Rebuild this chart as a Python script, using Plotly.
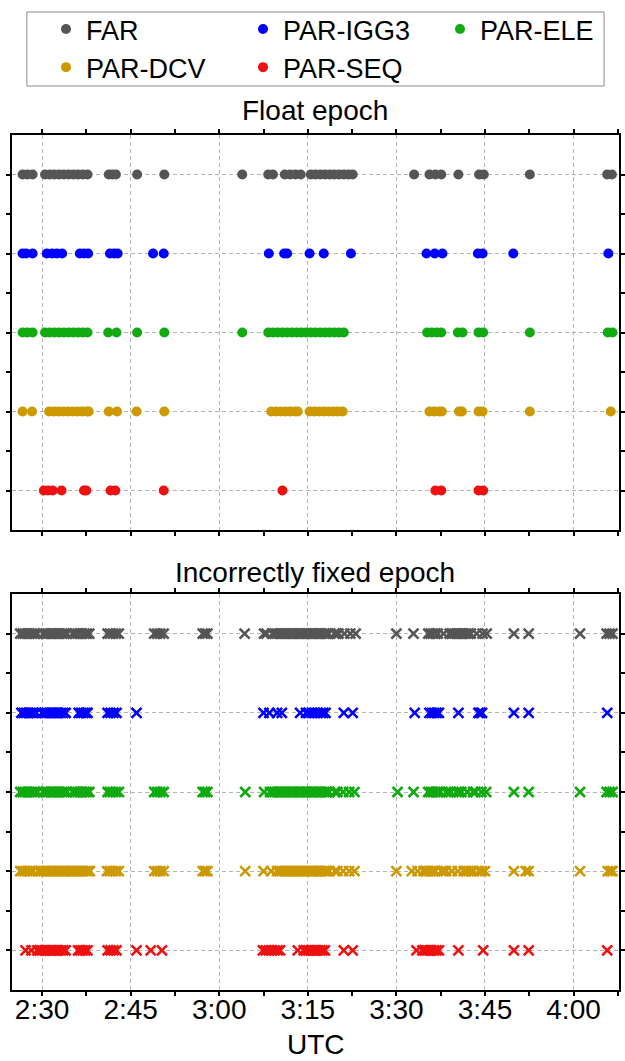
import plotly.graph_objects as go

# ---------------- data ----------------
categories = ["FAR", "PAR-IGG3", "PAR-ELE", "PAR-DCV", "PAR-SEQ"]
colors = ["#555555", "#0000FF", "#11AA11", "#CC9900", "#EE1111"]

# x-axis ticks (minutes after 02:00 UTC)
tick_vals = [30, 45, 60, 75, 90, 105, 120]
tick_text = ["2:30", "2:45", "3:00", "3:15", "3:30", "3:45", "4:00"]
minor_tick_vals = [37.5, 52.5, 67.5, 82.5, 97.5, 112.5, 127.5]
panel_titles = ["Float epoch", "Incorrectly fixed epoch"]
x_title = "UTC"

# Float epochs (minutes after 02:00 UTC)
float_far = [26.7, 27.5, 28.4, 30.5, 31.3, 32.1, 32.9, 33.7, 34.5, 35.3, 36.1, 36.9, 37.7,
             41.3, 41.9, 42.5, 46.1, 50.7, 63.9, 68.3, 69.1, 71.1, 72.0, 72.9, 73.8,
             75.5, 76.3, 77.1, 77.9, 78.7, 79.5, 80.3, 81.1, 81.9, 82.6, 93.0, 95.6, 96.6,
             97.6, 100.5, 104.0, 104.8, 112.6, 125.7, 126.5]
float_igg3 = [26.7, 27.3, 28.4, 30.8, 31.7, 32.5, 33.4, 36.4, 37.1, 37.8, 41.5, 42.2, 42.8,
              48.8, 50.6, 68.4, 71.0, 71.5, 75.3, 77.7, 82.3, 95.1, 96.5, 97.8, 103.8,
              104.6, 109.8, 125.9]
float_ele = [26.7, 27.5, 28.4, 30.5, 31.3, 32.1, 32.9, 33.7, 34.5, 35.3, 36.1, 36.9, 37.7,
             41.2, 42.6, 46.1, 50.7, 63.9, 68.3, 69.1, 69.9, 70.7, 71.5, 72.3, 73.1, 73.9,
             74.7, 75.5, 76.3, 77.1, 77.9, 78.7, 79.5, 80.3, 81.1, 95.2, 96.0, 96.8, 97.6,
             100.4, 101.2, 103.9, 104.7, 112.6, 125.8, 126.6]
float_dcv = [26.7, 28.3, 31.2, 32.0, 32.8, 33.6, 34.4, 35.2, 36.0, 36.8, 37.6, 37.9,
             41.3, 42.7, 46.0, 50.7, 68.8, 69.6, 70.4, 71.2, 72.0, 72.8, 73.3, 75.3, 76.1,
             76.9, 77.7, 78.5, 79.3, 80.1, 80.9, 95.6, 96.4, 97.2, 97.7, 100.6, 101.1,
             103.9, 104.6, 112.6, 126.3]
float_seq = [30.3, 31.0, 31.8, 33.3, 37.1, 37.5, 41.6, 42.4, 50.6, 70.7, 96.6, 97.6,
             103.9, 104.7]

# Incorrectly fixed epochs (minutes after 02:00 UTC)
inc_far = [26.3, 26.7, 27.1, 27.5, 27.9, 28.3, 28.7, 29.2, 30.2, 30.6, 31.0, 31.4, 31.8,
           32.2, 32.6, 33.0, 33.4, 33.8, 34.2, 35.2, 35.6, 36.0, 36.4, 36.8, 37.2, 37.6,
           38.0, 41.1, 41.5, 42.0, 42.5, 43.0, 49.0, 49.5, 50.0, 50.6, 57.2, 57.6, 58.0,
           64.3, 67.6, 68.0, 69.0, 69.4, 69.8, 70.2, 70.6, 71.0, 71.4, 71.8, 72.2, 72.6,
           73.0, 73.4, 73.8, 74.2, 74.6, 75.0, 75.4, 75.8, 76.2, 76.6, 77.0, 77.4, 77.8,
           78.2, 78.5, 79.5, 79.9, 80.2, 81.2, 82.2, 83.1, 90.0, 92.9, 95.4, 95.8, 96.2,
           96.6, 97.0, 98.0, 99.0, 99.4, 99.8, 100.2, 100.6, 101.0, 101.4, 101.8, 102.2,
           102.6, 103.6, 104.6, 105.3, 109.9, 112.4, 121.1, 125.6, 126.1, 126.6]
inc_igg3 = [26.5, 26.9, 27.3, 27.7, 28.1, 28.5, 29.0, 30.0, 30.4, 30.8, 31.2, 31.6, 32.0,
            32.4, 32.8, 33.2, 33.6, 34.0, 36.2, 36.6, 37.0, 37.4, 37.7, 41.1, 41.6, 42.1,
            42.6, 46.0, 67.5, 68.5, 69.8, 70.6, 73.7, 74.7, 75.2, 75.7, 76.2, 76.7, 77.2,
            77.6, 78.0, 81.1, 82.6, 93.1, 95.6, 96.0, 96.4, 96.8, 97.2, 100.5, 103.9,
            104.2, 104.5, 109.9, 112.4, 125.7]
inc_ele = [26.3, 26.7, 27.1, 27.5, 27.9, 28.3, 28.7, 29.2, 30.2, 30.6, 31.0, 31.4, 31.8,
           32.2, 32.6, 33.0, 33.4, 33.8, 34.2, 35.2, 35.6, 36.0, 36.4, 36.8, 37.2, 37.6,
           38.0, 41.1, 41.5, 42.0, 42.5, 43.0, 49.0, 49.5, 50.0, 50.6, 57.2, 57.6, 58.0,
           64.4, 67.6, 68.6, 69.0, 69.4, 69.8, 70.2, 70.6, 71.0, 71.4, 71.8, 72.2, 72.6,
           73.0, 73.4, 73.8, 74.2, 74.6, 75.0, 75.4, 75.8, 76.2, 76.6, 77.0, 77.4, 77.8,
           78.2, 78.6, 79.6, 80.0, 81.0, 82.0, 82.9, 90.2, 92.9, 95.4, 95.8, 96.2, 96.6,
           97.0, 97.4, 98.4, 98.8, 99.2, 100.2, 100.6, 101.0, 102.0, 103.0, 103.4, 104.4,
           105.2, 109.9, 112.4, 121.1, 125.6, 126.1, 126.6]
inc_dcv = [26.3, 26.7, 27.1, 27.5, 27.9, 28.4, 29.4, 29.8, 30.2, 30.6, 31.0, 31.4, 31.8,
           32.2, 32.6, 33.0, 33.4, 33.8, 34.2, 34.6, 35.0, 35.4, 35.8, 36.2, 36.6, 37.0,
           37.4, 37.8, 38.1, 41.0, 41.5, 42.0, 42.5, 43.0, 49.0, 49.5, 50.0, 50.6, 57.2,
           57.6, 58.0, 64.4, 67.5, 68.8, 69.8, 70.2, 70.6, 71.0, 71.4, 71.8, 72.2, 72.6,
           73.0, 73.4, 73.8, 74.2, 74.6, 75.0, 75.4, 75.8, 76.2, 76.6, 77.0, 77.4, 77.8,
           78.2, 78.6, 79.6, 80.0, 81.0, 82.0, 82.9, 90.0, 92.6, 93.6, 94.6, 95.0, 95.4,
           95.8, 96.2, 96.6, 97.6, 98.0, 98.4, 99.4, 100.4, 101.4, 101.8, 102.2, 102.6,
           103.0, 104.0, 104.5, 105.0, 109.9, 111.9, 112.4, 121.1, 125.8, 126.3, 126.6]
inc_seq = [27.2, 28.2, 29.2, 29.6, 30.0, 30.4, 30.8, 31.2, 31.6, 32.0, 32.4, 32.8, 33.2,
           33.6, 34.0, 36.1, 36.5, 36.9, 37.3, 37.7, 41.1, 41.6, 42.1, 42.6, 46.0, 48.4,
           50.3, 67.4, 67.9, 68.4, 68.9, 69.4, 69.9, 70.3, 73.3, 74.3, 74.7, 75.1, 75.5,
           75.9, 76.3, 76.7, 77.1, 77.5, 77.9, 81.1, 82.6, 93.4, 94.4, 94.8, 95.2, 95.6,
           96.0, 96.4, 96.8, 97.2, 100.5, 104.7, 109.9, 112.4, 125.7]

float_series = [float_far, float_igg3, float_ele, float_dcv, float_seq]
inc_series = [inc_far, inc_igg3, inc_ele, inc_dcv, inc_seq]

# ---------------- figure ----------------
W, H = 625, 1061
FONT = "Liberation Sans, Arial, sans-serif"
n = len(categories)

fig = go.Figure()
for i, (name, col) in enumerate(zip(categories, colors)):
    row = n - i
    fig.add_trace(go.Scatter(
        x=float_series[i], y=[row] * len(float_series[i]), mode="markers", name=name,
        marker=dict(symbol="circle", size=10, color=col, line=dict(width=0)),
        xaxis="x", yaxis="y", showlegend=True, legendrank=i + 1))
for i, (name, col) in enumerate(zip(categories, colors)):
    row = n - i
    fig.add_trace(go.Scatter(
        x=inc_series[i], y=[row] * len(inc_series[i]), mode="markers", name=name,
        marker=dict(symbol="x-thin", size=10, color=col, line=dict(width=2.6, color=col)),
        xaxis="x2", yaxis="y2", showlegend=False))

xdom = [12 / W, 622 / W]
top_dom = [1 - 530 / H, 1 - 135 / H]
bot_dom = [1 - 990 / H, 1 - 594 / H]
xrange = [24.9, 127.7]

common_x = dict(
    range=xrange, tickmode="array", tickvals=tick_vals, ticktext=tick_text,
    ticks="outside", ticklen=4, tickwidth=1.5, tickcolor="black",
    showline=True, linewidth=2, linecolor="black", mirror="ticks",
    showgrid=True, gridcolor="#b4b4b4", gridwidth=1, griddash="4px,3px",
    zeroline=False, domain=xdom,
    minor=dict(tickmode="array", tickvals=minor_tick_vals, ticks="outside",
               ticklen=4, tickwidth=1.5, tickcolor="black", showgrid=False),
    tickfont=dict(family=FONT, size=28, color="black"),
)
common_y = dict(
    range=[0.5, n + 0.5], tickmode="array", tickvals=list(range(1, n + 1)),
    ticktext=[""] * n, showticklabels=False,
    ticks="outside", ticklen=4, tickwidth=1.5, tickcolor="black",
    showline=True, linewidth=2, linecolor="black", mirror="ticks",
    showgrid=True, gridcolor="#b4b4b4", gridwidth=1, griddash="4px,3px",
    zeroline=False,
    minor=dict(tickmode="array", tickvals=[k + 0.5 for k in range(1, n)],
               ticks="outside", ticklen=4, tickwidth=1.5, tickcolor="black",
               showgrid=False),
)

fig.update_layout(
    width=W, height=H, margin=dict(l=0, r=0, t=0, b=0),
    paper_bgcolor="white", plot_bgcolor="white",
    font=dict(family=FONT, color="black"),
    xaxis=dict(common_x, anchor="y", showticklabels=False),
    yaxis=dict(common_y, anchor="x", domain=top_dom),
    xaxis2=dict(common_x, anchor="y2", showticklabels=True, ticklabelstandoff=-11),
    yaxis2=dict(common_y, anchor="x2", domain=bot_dom),
    legend=dict(orientation="h", x=35 / W, xanchor="left", y=1 - 5 / H, yanchor="top",
                borderwidth=0, bgcolor="rgba(0,0,0,0)",
                font=dict(family=FONT, size=27, color="black"),
                entrywidth=140, entrywidthmode="pixels", indentation=12,
                tracegroupgap=0),
    shapes=[dict(type="rect", xref="paper", yref="paper",
                 x0=27 / W, x1=607 / W, y0=1 - 86 / H, y1=1 - 12 / H,
                 line=dict(color="#8c8c8c", width=1), fillcolor="rgba(0,0,0,0)",
                 layer="below")],
    annotations=[
        dict(text=panel_titles[0], x=317 / W, y=1 - 110 / H, xref="paper", yref="paper",
             xanchor="center", yanchor="middle", showarrow=False,
             font=dict(family=FONT, size=28, color="black")),
        dict(text=panel_titles[1], x=317 / W, y=1 - 572 / H, xref="paper", yref="paper",
             xanchor="center", yanchor="middle", showarrow=False,
             font=dict(family=FONT, size=28, color="black")),
        dict(text=x_title, x=318 / W, y=0, xref="paper", yref="paper",
             xanchor="center", yanchor="bottom", showarrow=False, borderpad=0,
             font=dict(family=FONT, size=28, color="black")),
    ],
)

fig.write_html("out.html")
